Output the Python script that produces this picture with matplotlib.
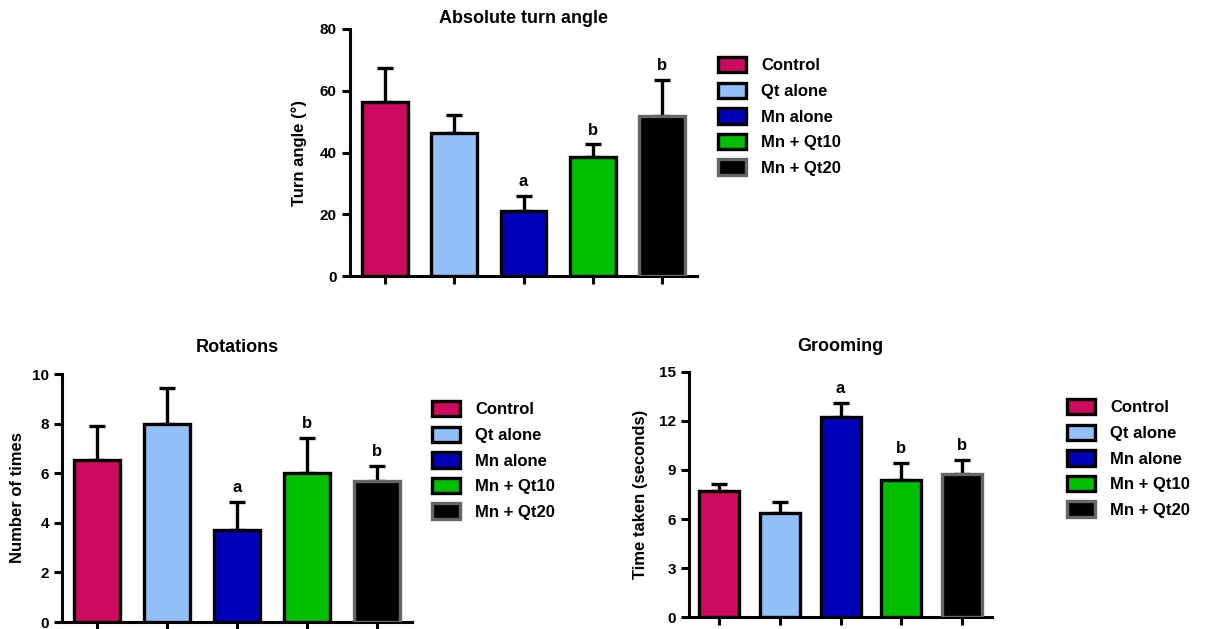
import numpy as np
import matplotlib
matplotlib.use("Agg")
import matplotlib.pyplot as plt
from matplotlib.patches import Patch

plt.rcParams['font.family'] = ['Liberation Sans', 'DejaVu Sans']
plt.rcParams['font.weight'] = 'bold'

groups = ["Control", "Qt alone", "Mn alone", "Mn + Qt10", "Mn + Qt20"]
fill_colors = ["#CC0A5E", "#92C0F8", "#0000B8", "#00BE00", "#000000"]
edge_colors = ["black", "black", "black", "black", "#666666"]

turn_mean = [56.4, 46.2, 21.0, 38.6, 51.9]
turn_err = [11.1, 6.0, 5.0, 4.0, 11.5]
turn_marks = ["", "", "a", "b", "b"]

rot_mean = [6.53, 8.0, 3.71, 6.02, 5.69]
rot_err = [1.39, 1.42, 1.14, 1.41, 0.59]
rot_marks = ["", "", "a", "b", "b"]

groom_mean = [7.72, 6.39, 12.22, 8.37, 8.75]
groom_err = [0.40, 0.67, 0.85, 1.08, 0.86]
groom_marks = ["", "", "a", "b", "b"]

fig = plt.figure(figsize=(12.18, 6.29), dpi=100)


def bar_panel(rect, mean, err, marks, ymax, yticks, title, title_pad, ylabel, label_pad, leg_xy):
    ax = fig.add_axes(rect)
    x = np.arange(len(mean))
    ax.bar(x, mean, width=0.66, color=fill_colors, edgecolor=edge_colors,
           linewidth=2.4, zorder=3)
    ax.errorbar(x, mean, yerr=[np.zeros(len(err)), err], fmt='none',
                ecolor='black', elinewidth=2.4, capsize=6, capthick=2.4, zorder=2)
    for i in range(len(mean)):
        if marks[i]:
            ax.annotate(marks[i], (x[i], mean[i] + err[i]), xytext=(0, 5),
                        textcoords='offset points', ha='center', va='bottom',
                        fontsize=12, fontweight='bold')
    ax.set_xlim(-0.5, len(mean) - 0.5)
    ax.set_ylim(0, ymax)
    ax.set_yticks(yticks)
    ax.set_xticks(x)
    ax.set_xticklabels([])
    ax.spines['right'].set_visible(False)
    ax.spines['top'].set_visible(False)
    ax.spines['left'].set_linewidth(2.2)
    ax.spines['bottom'].set_linewidth(2.2)
    ax.tick_params(axis='both', width=2.2, length=6, labelsize=11)
    for lab in ax.get_yticklabels():
        lab.set_fontweight('bold')
    ax.set_title(title, fontsize=13, fontweight='bold', pad=title_pad)
    ax.set_ylabel(ylabel, fontsize=12, fontweight='bold', labelpad=label_pad)
    handles = [Patch(facecolor=fill_colors[i], edgecolor=edge_colors[i], linewidth=2.4)
               for i in range(len(groups))]
    fig.legend(handles, groups, loc='upper left', bbox_to_anchor=leg_xy,
               frameon=False, handlelength=1.7, handleheight=1.05,
               handletextpad=0.9, labelspacing=0.55, borderpad=0, borderaxespad=0,
               prop={'weight': 'bold', 'size': 12})
    return ax


bar_panel([0.2874, 0.5612, 0.2849, 0.3927], turn_mean, turn_err, turn_marks,
          80, [0, 20, 40, 60, 80], "Absolute turn angle", 4, "Turn angle (°)", 9,
          (718 / 1218, 1 - 57 / 629))
bar_panel([0.0509, 0.0111, 0.2874, 0.3943], rot_mean, rot_err, rot_marks,
          10, [0, 2, 4, 6, 8, 10], "Rotations", 16, "Number of times", 5,
          (432 / 1218, 1 - 401 / 629))
bar_panel([0.5657, 0.0186, 0.2488, 0.3905], groom_mean, groom_err, groom_marks,
          15, [0, 3, 6, 9, 12, 15], "Grooming", 15, "Time taken (seconds)", 8,
          (1067 / 1218, 1 - 399 / 629))

plt.savefig("out.png", dpi=100)
